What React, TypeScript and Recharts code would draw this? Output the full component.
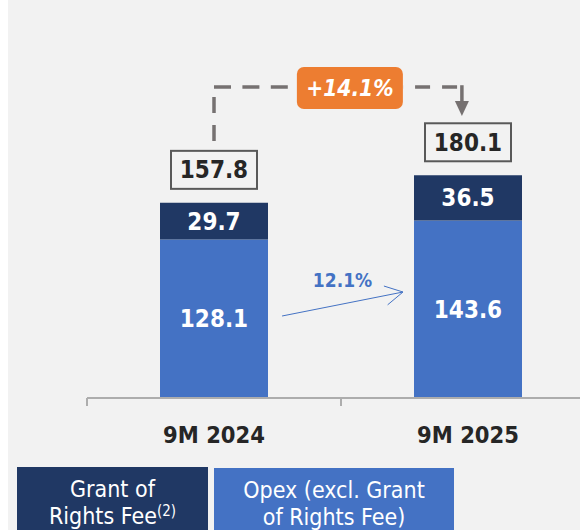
import React from 'react';
import { BarChart, Bar, XAxis, YAxis, LabelList, ReferenceLine, ReferenceDot } from 'recharts';

// ---------- data ----------
const categories = ['9M 2024', '9M 2025'];
const opexValues = [128.1, 143.6];
const grantValues = [29.7, 36.5];
const legendGrantLines = ['Grant of', 'Rights Fee'];
const legendGrantNote = '(2)';
const legendOpexLines = ['Opex (excl. Grant', 'of Rights Fee)'];

// ---------- styles ----------
const FONT = "'DejaVu Sans Condensed', 'DejaVu Sans', sans-serif";
const BG = '#F2F2F2';
const DARK = '#203864';
const BLUE = '#4472C4';
const ORANGE = '#ED7D31';
const AXIS = '#ADADAD';
const CONNECT = '#767171';

const totals = categories.map((_, i) => +(opexValues[i] + grantValues[i]).toFixed(1));
const data = categories.map((c, i) => ({ cat: c, opex: opexValues[i], grant: grantValues[i], total: totals[i] }));
const totalGrowth = `+${((totals[1] / totals[0] - 1) * 100).toFixed(1)}%`;
const opexGrowth = `${((opexValues[1] / opexValues[0] - 1) * 100).toFixed(1)}%`;

// annotation anchors (x as fraction of the plot width, y in value units)
const connectorLevel = 251.5;
const leftLegBottom = 207.8;
const rightLegTip = 228;
const leftX = 0.25;
const rightX = 0.738;
const badgeX = 0.5175;
const badgeLeft = 0.4135;
const badgeRight = 0.622;
const rightDashEnd = 0.7285;
const growthStart = { x: 0.384, y: 66.3 };
const growthEnd = { x: 0.622, y: 85.7 };

const AxisTick = (props: any) => {
  const { x, y, payload, index, visibleTicksCount } = props;
  const off = payload && typeof payload.offset === 'number' && payload.offset > 0 ? payload.offset : 127;
  return (
    <g>
      <line x1={x - off} y1={y} x2={x - off} y2={y + 8} stroke={AXIS} strokeWidth={2} />
      {index === visibleTicksCount - 1 && (
        <line x1={x + off} y1={y} x2={x + off} y2={y + 8} stroke={AXIS} strokeWidth={2} />
      )}
      <text x={x} y={y + 45} textAnchor="middle" fill="#262626" fontSize={23.5} fontWeight={700} fontFamily={FONT}>
        {payload.value}
      </text>
    </g>
  );
};

const TotalBox = (props: any) => {
  const vb = props.viewBox || props;
  const x = vb.x ?? props.x;
  const y = vb.y ?? props.y;
  const width = vb.width ?? props.width;
  const cx = x + width / 2;
  const v = typeof props.value === 'number' ? props.value.toFixed(1) : props.value;
  return (
    <g>
      <rect x={cx - 43} y={y - 52} width={86} height={38} fill="none" stroke="#595959" strokeWidth={2} />
      <text x={cx} y={y - 33} dy="0.36em" textAnchor="middle" fill="#262626" fontSize={24} fontWeight={700} fontFamily={FONT}>
        {v}
      </text>
    </g>
  );
};

const Badge = (p: any) => (
  <g>
    <rect x={p.cx - 53} y={p.cy - 20} width={106} height={42} rx={7} fill={ORANGE} />
    <text x={p.cx} y={p.cy + 1} dy="0.36em" textAnchor="middle" fill="#FFFFFF" fontSize={22.5} fontWeight={700} fontStyle="italic" fontFamily={FONT}>
      {totalGrowth}
    </text>
  </g>
);

const DownArrow = (p: any) => {
  const { x1, y1, x2, y2 } = p;
  return (
    <g>
      <line x1={x1} y1={y1 - 1.75} x2={x2} y2={y2 - 13} stroke={CONNECT} strokeWidth={3.5} />
      <polygon points={`${x2 - 7},${y2 - 15} ${x2 + 7},${y2 - 15} ${x2},${y2}`} fill={CONNECT} />
    </g>
  );
};

const GrowthArrow = (p: any) => {
  const { x1, y1, x2, y2 } = p;
  const ang = Math.atan2(y2 - y1, x2 - x1);
  const L = 20;
  const a = 0.5;
  const h1x = x2 - L * Math.cos(ang - a);
  const h1y = y2 - L * Math.sin(ang - a);
  const h2x = x2 - L * Math.cos(ang + a);
  const h2y = y2 - L * Math.sin(ang + a);
  return (
    <g>
      <line x1={x1} y1={y1} x2={x2} y2={y2} stroke={BLUE} strokeWidth={1} />
      <polyline points={`${h1x},${h1y} ${x2},${y2} ${h2x},${h2y}`} fill="none" stroke={BLUE} strokeWidth={1} />
      <text x={(x1 + x2) / 2} y={(y1 + y2) / 2 - 17} textAnchor="middle" fill={BLUE} fontSize={19} fontWeight={700} fontFamily={FONT}>
        {opexGrowth}
      </text>
    </g>
  );
};

const legendText: React.CSSProperties = {
  color: '#FFFFFF',
  fontFamily: FONT,
  fontSize: 23,
  lineHeight: '27px',
  textAlign: 'center',
  paddingTop: 9,
  boxSizing: 'border-box',
  position: 'absolute',
  height: 70,
  whiteSpace: 'nowrap',
};

export default function App() {
  return (
    <div style={{ position: 'absolute', left: 8, top: 0, width: 572, height: 530, overflow: 'hidden', background: BG }}>
      <BarChart width={600} height={530} data={data} margin={{ top: 27, right: 13, bottom: 92, left: 79 }}>
        <XAxis
          dataKey="cat"
          height={40}
          tickSize={0}
          tickMargin={0}
          tickLine={false}
          axisLine={{ stroke: AXIS, strokeWidth: 2 }}
          tick={<AxisTick />}
          interval={0}
        />
        <XAxis xAxisId="n" type="number" domain={[0, 1]} allowDataOverflow hide />
        <YAxis hide domain={[0, 300]} allowDataOverflow />
        <Bar dataKey="opex" stackId="a" fill={BLUE} barSize={108} isAnimationActive={false}>
          <LabelList dataKey="opex" position="center" fill="#FFFFFF" fontSize={24} fontWeight={700} fontFamily={FONT} />
        </Bar>
        <Bar dataKey="grant" stackId="a" fill={DARK} barSize={108} isAnimationActive={false}>
          <LabelList dataKey="grant" position="center" fill="#FFFFFF" fontSize={24} fontWeight={700} fontFamily={FONT} />
          <LabelList dataKey="total" position="top" content={<TotalBox />} />
        </Bar>
        <ReferenceLine
          xAxisId="n"
          segment={[{ x: leftX, y: leftLegBottom }, { x: leftX, y: connectorLevel }]}
          stroke={CONNECT}
          strokeWidth={3.5}
          strokeDasharray="16 12"
          ifOverflow="visible"
        />
        <ReferenceLine
          xAxisId="n"
          segment={[{ x: leftX, y: connectorLevel }, { x: badgeLeft, y: connectorLevel }]}
          stroke={CONNECT}
          strokeWidth={3.5}
          strokeDasharray="17 11.4"
          ifOverflow="visible"
        />
        <ReferenceLine
          xAxisId="n"
          segment={[{ x: rightDashEnd, y: connectorLevel }, { x: badgeRight, y: connectorLevel }]}
          stroke={CONNECT}
          strokeWidth={3.5}
          strokeDasharray="15 12"
          ifOverflow="visible"
        />
        <ReferenceLine
          xAxisId="n"
          segment={[{ x: rightX, y: connectorLevel }, { x: rightX, y: rightLegTip }]}
          shape={<DownArrow />}
          ifOverflow="visible"
        />
        <ReferenceLine
          xAxisId="n"
          segment={[growthStart, growthEnd]}
          shape={<GrowthArrow />}
          ifOverflow="visible"
        />
        <ReferenceDot xAxisId="n" x={badgeX} y={connectorLevel} r={1} shape={<Badge />} ifOverflow="visible" />
      </BarChart>
      <div style={{ ...legendText, left: 9, top: 467, width: 191, background: DARK }}>
        <div>{legendGrantLines[0]}</div>
        <div>
          {legendGrantLines[1]}
          <span style={{ fontSize: 15, position: 'relative', top: -8, lineHeight: 0 }}>{legendGrantNote}</span>
        </div>
      </div>
      <div style={{ ...legendText, left: 206, top: 468, width: 240, background: BLUE }}>
        <div>{legendOpexLines[0]}</div>
        <div>{legendOpexLines[1]}</div>
      </div>
    </div>
  );
}
